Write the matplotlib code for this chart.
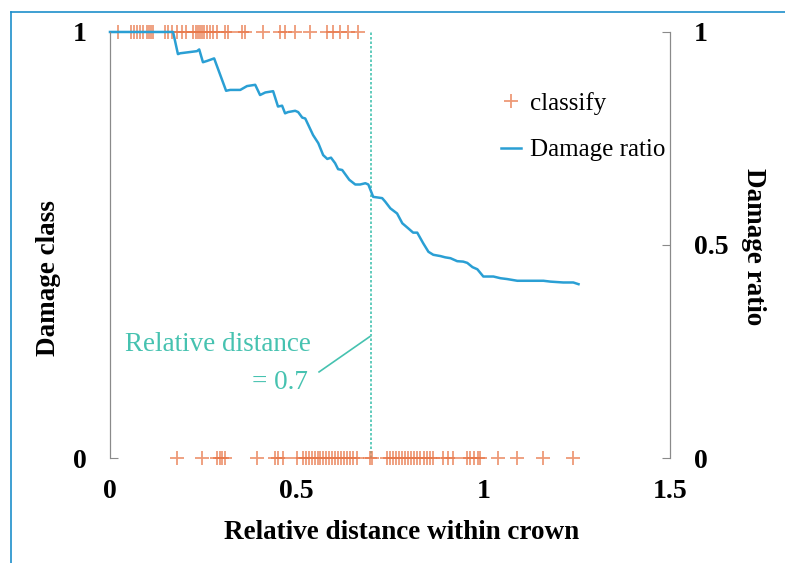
import numpy as np
import matplotlib.pyplot as plt
from matplotlib.lines import Line2D

plt.rcParams['font.family'] = ['Liberation Serif', 'DejaVu Serif']

# damage class observations (class 1 on top, class 0 at bottom)
class1_x = [0.021, 0.056, 0.064, 0.072, 0.080, 0.088, 0.099, 0.104, 0.110, 0.115,
            0.147, 0.155, 0.166, 0.180, 0.193, 0.204, 0.223, 0.230, 0.236, 0.241,
            0.247, 0.253, 0.260, 0.268, 0.276, 0.287, 0.308, 0.316, 0.354, 0.362,
            0.410, 0.456, 0.469, 0.496, 0.536, 0.582, 0.598, 0.617, 0.638, 0.665]
class0_x = [0.180, 0.247, 0.287, 0.295, 0.301, 0.308, 0.394, 0.442, 0.450, 0.464,
            0.501, 0.517, 0.525, 0.533, 0.540, 0.548, 0.556, 0.563, 0.571, 0.579,
            0.587, 0.595, 0.603, 0.611, 0.619, 0.627, 0.635, 0.643, 0.652, 0.662,
            0.697, 0.702, 0.743, 0.750, 0.758, 0.766, 0.774, 0.782, 0.790, 0.798,
            0.806, 0.815, 0.823, 0.831, 0.840, 0.848, 0.857, 0.866, 0.893, 0.905,
            0.920, 0.957, 0.965, 0.975, 0.985, 0.992, 1.038, 1.091, 1.161, 1.241]

# damage ratio curve
ratio_x = [0, 0.169, 0.182, 0.188, 0.206, 0.233, 0.239, 0.249, 0.260, 0.279,
           0.311, 0.322, 0.349, 0.367, 0.389, 0.402, 0.416, 0.437, 0.450, 0.461,
           0.469, 0.477, 0.496, 0.504, 0.515, 0.523, 0.544, 0.558, 0.571, 0.582,
           0.592, 0.603, 0.611, 0.622, 0.641, 0.657, 0.670, 0.684, 0.692, 0.705,
           0.729, 0.737, 0.751, 0.769, 0.783, 0.799, 0.812, 0.823, 0.839, 0.853,
           0.866, 0.885, 0.898, 0.912, 0.930, 0.946, 0.957, 0.971, 0.984, 1.000,
           1.027, 1.046, 1.064, 1.091, 1.126, 1.161, 1.180, 1.214, 1.241, 1.255]
ratio_y = [1.0, 1.0, 0.948, 0.950, 0.952, 0.955, 0.959, 0.929, 0.932, 0.938,
           0.862, 0.864, 0.864, 0.873, 0.876, 0.852, 0.858, 0.861, 0.825, 0.827,
           0.809, 0.812, 0.815, 0.812, 0.799, 0.797, 0.758, 0.739, 0.711, 0.702,
           0.705, 0.692, 0.678, 0.676, 0.653, 0.642, 0.642, 0.645, 0.642, 0.613,
           0.610, 0.602, 0.586, 0.574, 0.551, 0.539, 0.529, 0.529, 0.504, 0.484,
           0.477, 0.474, 0.471, 0.469, 0.462, 0.461, 0.458, 0.448, 0.443, 0.426,
           0.426, 0.422, 0.420, 0.416, 0.416, 0.416, 0.414, 0.412, 0.412, 0.408]

threshold = 0.7

orange = '#E8784A'
blue = '#2A9FD4'
teal = '#46C2B0'
gray = '#8A8A8A'

fig = plt.figure(figsize=(7.85, 5.63), dpi=100)
ax = fig.add_axes([0.1401, 0.1865, 0.7134, 0.7567])
ax2 = ax.twinx()

cls_x = class1_x + class0_x
cls_y = [1] * len(class1_x) + [0] * len(class0_x)
ax.plot(cls_x, cls_y, linestyle='none', marker='+', markersize=10,
        markeredgewidth=1.3, color=orange, alpha=0.75, clip_on=False,
        zorder=3, label='classify')
ax2.plot(ratio_x, ratio_y, color=blue, lw=1.8, clip_on=False, label='Damage ratio')

ax.axvline(threshold, ymin=0, ymax=1, color=teal, ls=(0, (1.5, 1.2)), lw=1.2)
ax.text(0.538, 0.267, 'Relative distance', ha='right', va='center',
        color=teal, fontsize=19.5)
ax.text(0.529, 0.177, '= 0.7', ha='right', va='center', color=teal, fontsize=19.5)
ax.plot([0.560, threshold - 0.004], [0.202, 0.285], color=teal, lw=1.2)

for a in (ax, ax2):
    a.set_xlim(0, 1.5)
    a.set_ylim(0, 1)
    a.spines['top'].set_visible(False)
    a.spines['bottom'].set_visible(False)
    a.spines['left'].set_color(gray)
    a.spines['right'].set_color(gray)

ax.set_yticks([0, 1])
ax.set_yticklabels(['0', '1'], fontweight='bold', fontsize=20)
ax.tick_params(axis='y', direction='in', length=6, color=gray, pad=17)
ax.set_xticks([0, 0.5, 1, 1.5])
ax.set_xticklabels(['0', '0.5', '1', '1.5'], fontweight='bold', fontsize=20)
ax.tick_params(axis='x', length=0, pad=15)

ax2.set_yticks([0, 0.5, 1])
ax2.set_yticklabels(['0', '0.5', '1'], fontweight='bold', fontsize=20)
ax2.tick_params(axis='y', direction='in', length=6, color=gray, pad=17)

ax.set_xlabel('Relative distance within crown', fontweight='bold', fontsize=19.5)
ax.xaxis.set_label_coords(0.52, -0.146)
ax.set_ylabel('Damage class', fontweight='bold', fontsize=19.5)
ax.yaxis.set_label_coords(-0.088, 0.423)
ax2.set_ylabel('Damage ratio', fontweight='bold', fontsize=19.5, rotation=270)
ax2.yaxis.set_label_coords(1.172, 0.495)

h1, l1 = ax.get_legend_handles_labels()
h2, l2 = ax2.get_legend_handles_labels()
h1 = [Line2D([], [], linestyle='none', marker='+', markersize=10,
             markeredgewidth=1.3, color=orange, alpha=0.75)]
ax2.legend(h1 + h2, l1 + l2, loc='upper left', bbox_to_anchor=(0.658, 0.913),
           frameon=False, fontsize=18, labelspacing=0.97, handlelength=0.8,
           handletextpad=0.35)

# thin blue frame around the panel
fig.add_artist(Line2D([10.5 / 785, 10.5 / 785], [0, 1 - 12 / 563],
                      transform=fig.transFigure, color='#1E8FCB', lw=1.2))
fig.add_artist(Line2D([10.5 / 785, 1], [1 - 12 / 563, 1 - 12 / 563],
                      transform=fig.transFigure, color='#1E8FCB', lw=1.2))

fig.savefig('out.png', dpi=100)
